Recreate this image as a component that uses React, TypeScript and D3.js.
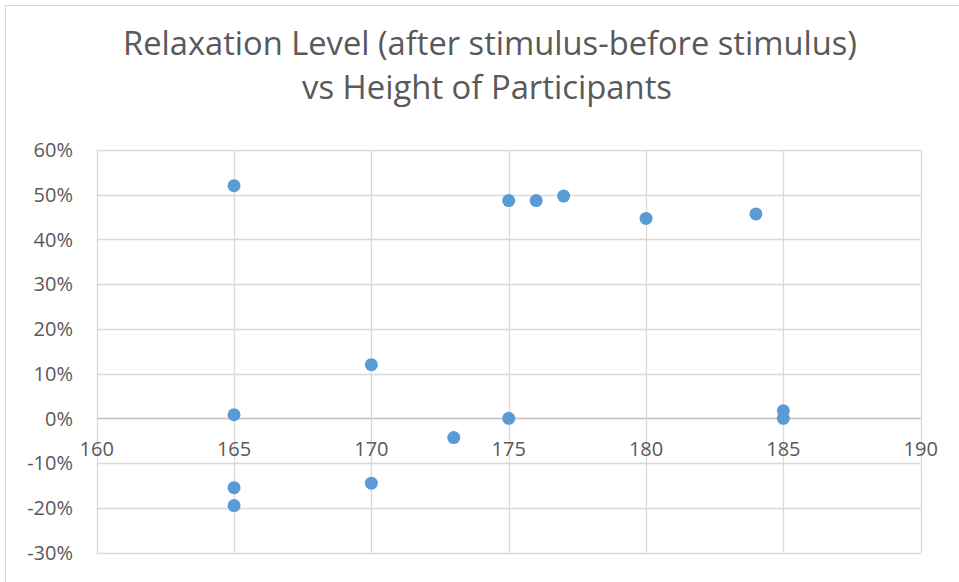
import React from "react";
import * as d3 from "d3";

const heights: number[] = [165, 165, 165, 165, 170, 170, 173, 175, 176, 177, 180, 184, 175, 185, 185];
const relaxation: number[] = [0.52, 0.008, -0.155, -0.195, 0.12, -0.145, -0.043, 0.487, 0.487, 0.497, 0.447, 0.457, 0.0, 0.017, 0.0];
const xTicks: number[] = [160, 165, 170, 175, 180, 185, 190];
const yTicks: number[] = [0.6, 0.5, 0.4, 0.3, 0.2, 0.1, 0, -0.1, -0.2, -0.3];
const titleLines: string[] = ["Relaxation Level (after stimulus-before stimulus)", "vs Height of Participants"];

const W = 959;
const H = 582;
const FONT = "'Open Sans', 'Liberation Sans', sans-serif";
const TEXT = "#595959";
const GRID = "#d9d9d9";
const DOT = "#5b9bd5";

export default function App() {
  const x = d3.scaleLinear().domain([160, 190]).range([96.7, 920.7]);
  const y = d3.scaleLinear().domain([-0.3, 0.6]).range([552.5, 150]);
  const fmt = (v: number) => d3.format(".0%")(v).replace("\u2212", "-");

  return (
    <svg
      width={W}
      height={H}
      style={{ position: "fixed", left: 0, top: 0, background: "#fff" }}
      fontFamily={FONT}
    >
      <rect x={0} y={0} width={W} height={H} fill="#fff" />
      <rect x={5.5} y={5.5} width={W + 10} height={H + 10} fill="none" stroke="#d9d9d9" strokeWidth={1} />

      {/* title */}
      <text x={490} y={55} textAnchor="middle" fontSize={32} fill={TEXT} textLength={734} lengthAdjust="spacingAndGlyphs">
        {titleLines[0]}
      </text>
      <text x={487} y={99} textAnchor="middle" fontSize={32} fill={TEXT} textLength={370} lengthAdjust="spacingAndGlyphs">
        {titleLines[1]}
      </text>

      {/* horizontal gridlines */}
      {yTicks.map((t) => (
        <line
          key={"gy" + t}
          x1={x(160)}
          x2={x(190)}
          y1={Math.round(y(t)) + 0.5}
          y2={Math.round(y(t)) + 0.5}
          stroke={t === 0 ? "#bfbfbf" : GRID}
          strokeWidth={1.3}
        />
      ))}
      {/* vertical gridlines */}
      {xTicks.map((t) => (
        <line
          key={"gx" + t}
          x1={Math.round(x(t)) + 0.5}
          x2={Math.round(x(t)) + 0.5}
          y1={y(0.6)}
          y2={y(-0.3)}
          stroke={GRID}
          strokeWidth={1.3}
        />
      ))}

      {/* y tick labels */}
      {yTicks.map((t) => (
        <text key={"ly" + t} x={73} y={y(t)} dy="0.36em" textAnchor="end" fontSize={20} fill={TEXT}>
          {fmt(t)}
        </text>
      ))}
      {/* x tick labels */}
      {xTicks.map((t) => (
        <text key={"lx" + t} x={x(t)} y={y(0) + 38} textAnchor="middle" fontSize={20} fill={TEXT}>
          {t}
        </text>
      ))}

      {/* points */}
      {heights.map((h, i) => (
        <circle key={"p" + i} cx={x(h)} cy={y(relaxation[i])} r={6.5} fill={DOT} />
      ))}
    </svg>
  );
}
